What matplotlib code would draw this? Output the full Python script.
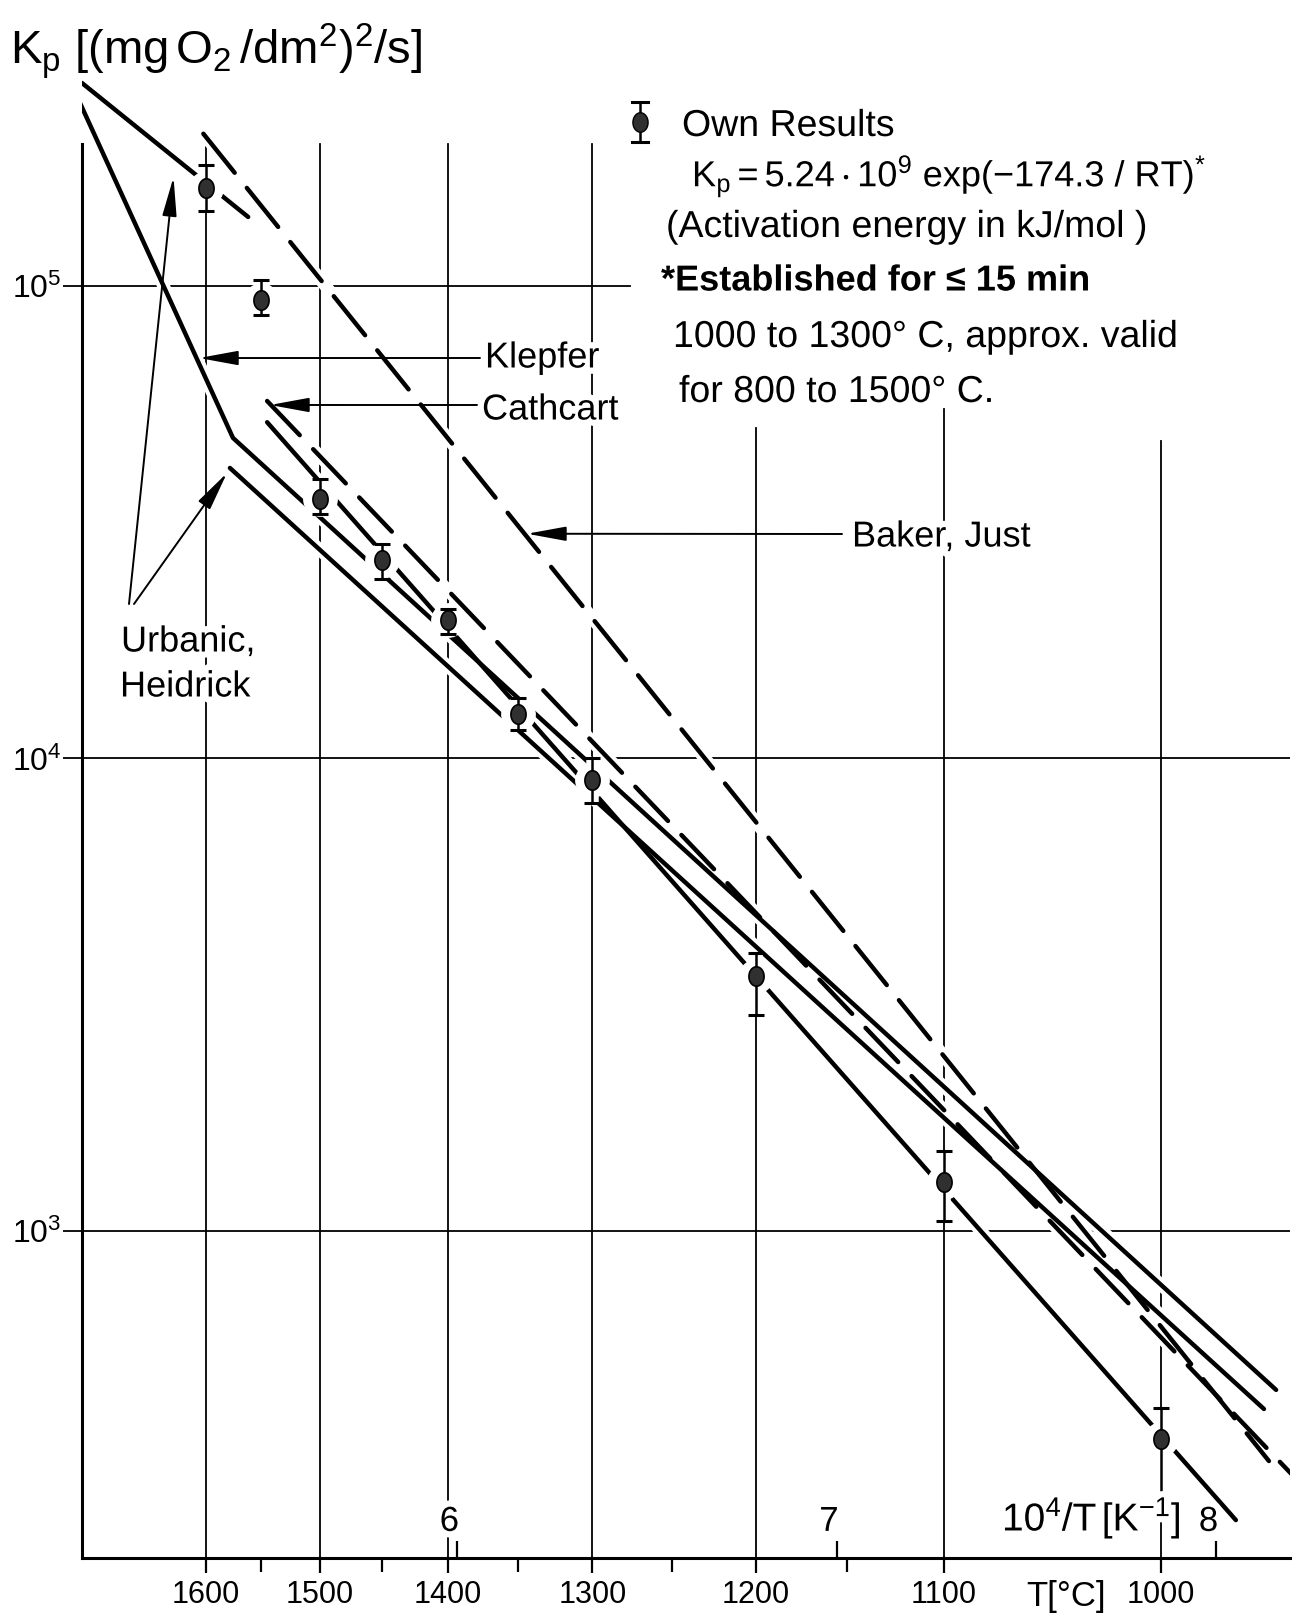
import numpy as np
import matplotlib.pyplot as plt
from matplotlib.lines import Line2D
from matplotlib.path import Path
import matplotlib.patheffects as pe

plt.rcParams['font.family'] = ['Liberation Sans', 'DejaVu Sans']
plt.rcParams['mathtext.fontset'] = 'custom'
plt.rcParams['mathtext.rm'] = 'Liberation Sans'
plt.rcParams['mathtext.it'] = 'Liberation Sans'
plt.rcParams['mathtext.bf'] = 'Liberation Sans:bold'
plt.rcParams['lines.scale_dashes'] = False

# own measurements, parabolic rate constant with scatter band
temp_c = [1600, 1550, 1500, 1450, 1400, 1350, 1300, 1200, 1100, 1000]
kp_mean = [1.61e5, 9.32e4, 3.55e4, 2.63e4, 1.96e4, 1.24e4, 9.0e3, 3.47e3, 1.27e3, 362]
kp_high = [1.80e5, 1.03e5, 3.90e4, 2.84e4, 2.07e4, 1.34e4, 1.0e4, 3.88e3, 1.48e3, 422]
kp_low = [1.44e5, 8.68e4, 3.29e4, 2.40e4, 1.83e4, 1.15e4, 8.04e3, 2.86e3, 1.05e3, 274]

# Arrhenius fit of own results: Kp = A exp(-Ea/RT)
fit_a = 5.24e9
fit_ea = 174.3  # kJ/mol
fit_x = [5.500, 8.052]

# literature correlations, x = 10^4/T [1/K]
klepfer_x = [5.007, 5.410, 8.158]
klepfer_kp = [2.44e5, 4.77e4, 461]
urbanic_hi_x = [5.012, 5.450]
urbanic_hi_kp = [2.69e5, 1.40e5]
urbanic_lo_x = [5.402, 8.126]
urbanic_lo_kp = [4.12e4, 420]
cathcart_x = [5.500, 8.200]
cathcart_kp = [5.71e4, 305]
baker_x = [5.332, 8.139]
baker_kp = [2.10e5, 326]

# axis ticks
grid_temps = [1600, 1500, 1400, 1300, 1200, 1100, 1000]
grid_top_kp = [2.0e5, 2.0e5, 2.0e5, 2.0e5, 5.0e4, 5.5e4, 4.7e4]
minor_temps = [1550, 1450, 1350, 1250, 1150]
inv_ticks = [6, 7, 8]
decades = [1e3, 1e4, 1e5]
decade_right = [8.1946, 8.1946, 6.456]

W, H = 1292, 1619


def inv_t(t_c):
    return 1e4 / (np.asarray(t_c, dtype=float) + 273.15)


def fig_xy(px, py):
    return px / W, 1 - py / H


halo = [pe.withStroke(linewidth=9, foreground='white')]

fig = plt.figure(figsize=(W / 100, H / 100), dpi=100)
ax = fig.add_axes([82 / W, 1 - 1558 / H, (1290 - 82) / W, 1558 / H])
ax.set_yscale('log')
ax.set_xlim(5.0123, 8.1946)
ax.set_ylim(10 ** 2.3079, 10 ** 5.6053)
ax.set_facecolor('none')

for s in ['top', 'right']:
    ax.spines[s].set_visible(False)
ax.spines['left'].set_linewidth(2.2)
ax.spines['bottom'].set_linewidth(2.2)
ax.spines['left'].set_bounds(10 ** 2.3079, 2.0e5)

# temperature scale on the bottom axis
ax.set_xticks(inv_t(grid_temps))
ax.set_xticklabels([str(t) for t in grid_temps])
ax.set_xticks(inv_t(minor_temps), minor=True)
ax.tick_params(axis='x', which='major', direction='out', length=11, width=1.6,
               labelsize=22, pad=5)
ax.tick_params(axis='x', which='minor', direction='out', length=10, width=1.6)

ax.set_yticks(decades)
ax.set_yticklabels([r'$\mathregular{10^{%d}}$' % int(np.log10(d)) for d in decades])
ax.yaxis.set_minor_locator(plt.NullLocator())
ax.tick_params(axis='y', which='major', direction='out', length=14, width=1.3,
               labelsize=23, pad=1)

# grid drawn by hand, lines stop below the legend text
xl = ax.get_xlim()
yl = ax.get_ylim()
for t, top in zip(grid_temps, grid_top_kp):
    x = inv_t(t)
    ax.plot([x, x], [yl[0], top], color='black', lw=1.3, zorder=1)
for d, xr in zip(decades, decade_right):
    ax.plot([xl[0], xr], [d, d], color='black', lw=1.3, zorder=1)

# 10^4/T ticks pointing up from the bottom axis
ax.vlines(inv_ticks, 0, 0.011, transform=ax.get_xaxis_transform(),
          color='black', lw=1.6, zorder=3)
for v in inv_ticks:
    ax.text(v - 0.02, 0.0235, str(v), transform=ax.get_xaxis_transform(),
            ha='center', va='center', fontsize=25, zorder=7, path_effects=halo)

fit_kp = fit_a * np.exp(-fit_ea * 1e3 * np.asarray(fit_x) / (8.314 * 1e4))

curves = [
    (klepfer_x, klepfer_kp, None),
    (urbanic_hi_x, urbanic_hi_kp, None),
    (urbanic_lo_x, urbanic_lo_kp, None),
    (fit_x, fit_kp, None),
    (cathcart_x, cathcart_kp, (34, 14)),
    (baker_x, baker_kp, (36, 14)),
]
# white halos first so the grid gets cut where the curves cross it
for cx, cy, dash in curves:
    ax.plot(cx, cy, color='white', lw=9, solid_capstyle='butt', zorder=2)
for cx, cy, dash in curves:
    if dash is None:
        ax.plot(cx, cy, color='black', lw=3.2, solid_capstyle='round', zorder=3)
    else:
        ax.plot(cx, cy, color='black', lw=3.2, dashes=dash,
                dash_capstyle='round', zorder=3)

# measured points with scatter bars
t_ell = np.linspace(0, 2 * np.pi, 40)
ellipse = Path(np.column_stack([0.78 * np.cos(t_ell), np.sin(t_ell)]), closed=True)

px = inv_t(temp_c)
mean = np.array(kp_mean)
ax.vlines(px, kp_low, kp_high, color='white', lw=9, zorder=4)
ax.plot(px, mean, linestyle='none', marker='o', ms=24, color='white', zorder=4)
ax.errorbar(px, mean, yerr=[mean - np.array(kp_low), np.array(kp_high) - mean],
            fmt='none', ecolor='black', elinewidth=1.8, capsize=6, capthick=2.2,
            zorder=5)
ax.plot(px, mean, linestyle='none', marker=ellipse, ms=14, mfc='#303030',
        mec='black', mew=1.2, zorder=6)

# arrows pointing at the literature curves
arrow_kw = dict(arrowstyle='-|>,head_length=1.2,head_width=0.22', color='black',
                lw=1.4, mutation_scale=20, shrinkA=0, shrinkB=0)
arrows = [
    ((5.3206, 7.04e4), (480, 358)),
    ((5.5076, 5.60e4), (480, 405)),
    ((6.1846, 2.99e4), (842, 534)),
    ((5.2534, 1.70e5), (129, 604)),
    ((5.3943, 4.02e4), (134, 604)),
]
for tip, tail in arrows:
    ax.annotate('', xy=tip, xycoords='data', xytext=fig_xy(*tail),
                textcoords='figure fraction', arrowprops=arrow_kw, zorder=6)

label_kw = dict(fontsize=26, va='center', ha='left', zorder=8, path_effects=halo)
fig.text(*fig_xy(485, 358), 'Klepfer', **label_kw)
fig.text(*fig_xy(482, 410), 'Cathcart', **label_kw)
fig.text(*fig_xy(852, 537), 'Baker, Just', **label_kw)
fig.text(*fig_xy(121, 642), 'Urbanic,', **label_kw)
fig.text(*fig_xy(120, 687), 'Heidrick', **label_kw)

# y axis title
fig.text(*fig_xy(10, 64), r'$\mathregular{K_p\ [(mg\,O_2\,/dm^2)^2/s]}$',
         fontsize=34, ha='left', va='baseline')

# legend block
sx, sy = 640, 122
fig.add_artist(Line2D([sx / W, sx / W], [1 - (sy - 20) / H, 1 - (sy + 20) / H],
                      color='black', lw=1.8, transform=fig.transFigure))
for cy in (sy - 20, sy + 20):
    fig.add_artist(Line2D([(sx - 8) / W, (sx + 8) / W], [1 - cy / H, 1 - cy / H],
                          color='black', lw=2.2, transform=fig.transFigure))
fig.add_artist(Line2D([sx / W], [1 - sy / H], marker=ellipse, ms=14,
                      mfc='#303030', mec='black', transform=fig.transFigure))

text_kw = dict(fontsize=27, va='center', ha='left', zorder=8, path_effects=halo)
fig.text(*fig_xy(682, 126), 'Own Results', **text_kw)
fig.text(*fig_xy(692, 176),
         r'$\mathregular{K_p = 5.24 \cdot 10^9\ exp(-174.3\ /\ RT)^{*}}$',
         **dict(text_kw, fontsize=26))
fig.text(*fig_xy(666, 227), '(Activation energy in kJ/mol )', **text_kw)
fig.text(*fig_xy(661, 281), '*Established for \u2264 15 min', fontweight='bold',
         **dict(text_kw, fontsize=26))
fig.text(*fig_xy(673, 337), '1000 to 1300\u00b0 C, approx. valid', **text_kw)
fig.text(*fig_xy(679, 392), 'for 800 to 1500\u00b0 C.', **text_kw)

# axis captions at the lower right
fig.text(*fig_xy(1002, 1518), r'$\mathregular{10^4/T\,[K^{-1}]}$',
         fontsize=28, va='center', ha='left', zorder=8, path_effects=halo)
fig.text(*fig_xy(1026, 1596), 'T[\u00b0C]', fontsize=25, va='center', ha='left')

fig.savefig('out.png', dpi=100)
